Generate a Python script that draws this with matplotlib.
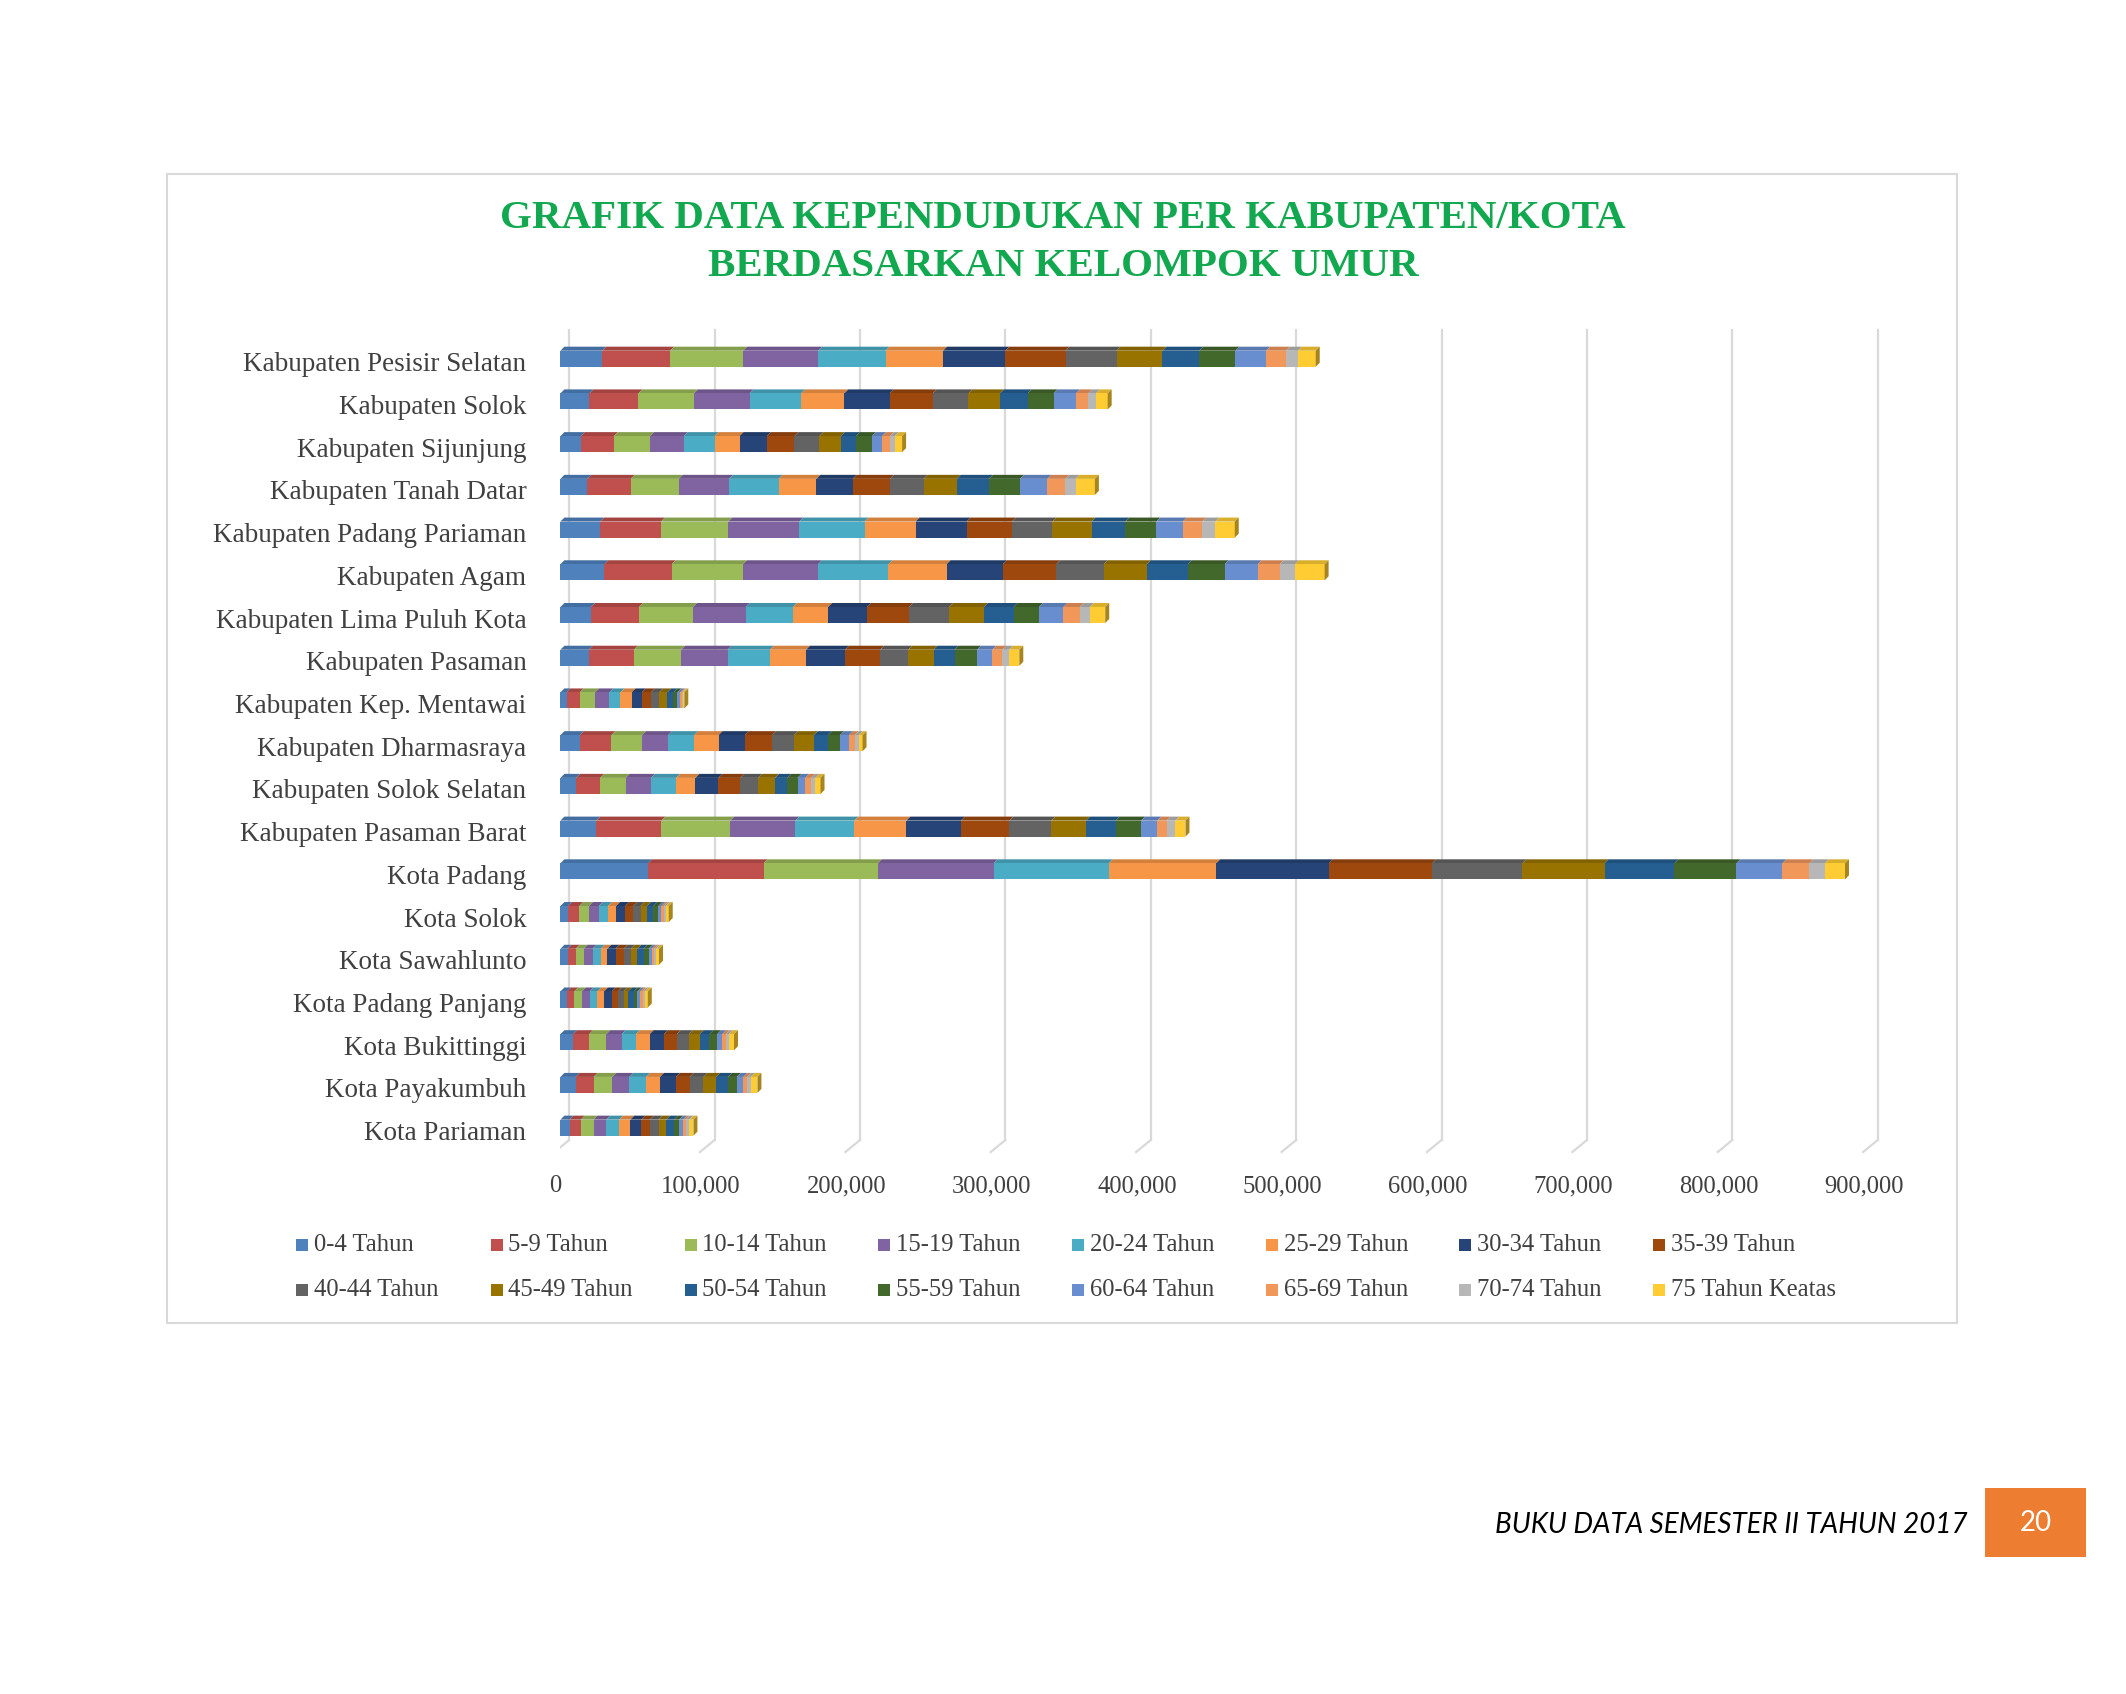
import numpy as np
import matplotlib
matplotlib.use('Agg')
import matplotlib.pyplot as plt
from matplotlib.patches import Rectangle, Polygon
from matplotlib.transforms import ScaledTranslation

# Regions, top to bottom
regions = [
    'Kabupaten Pesisir Selatan', 'Kabupaten Solok', 'Kabupaten Sijunjung',
    'Kabupaten Tanah Datar', 'Kabupaten Padang Pariaman', 'Kabupaten Agam',
    'Kabupaten Lima Puluh Kota', 'Kabupaten Pasaman', 'Kabupaten Kep. Mentawai',
    'Kabupaten Dharmasraya', 'Kabupaten Solok Selatan', 'Kabupaten Pasaman Barat',
    'Kota Padang', 'Kota Solok', 'Kota Sawahlunto', 'Kota Padang Panjang',
    'Kota Bukittinggi', 'Kota Payakumbuh', 'Kota Pariaman',
]

age_groups = ['0-4 Tahun', '5-9 Tahun', '10-14 Tahun', '15-19 Tahun', '20-24 Tahun',
              '25-29 Tahun', '30-34 Tahun', '35-39 Tahun', '40-44 Tahun', '45-49 Tahun',
              '50-54 Tahun', '55-59 Tahun', '60-64 Tahun', '65-69 Tahun', '70-74 Tahun',
              '75 Tahun Keatas']

# population per age group, in region order
age_0_4 = [28800, 20000, 14000, 18600, 27400, 30200, 21100, 19600, 4200, 13300, 10900, 24600, 60400, 5300, 4900, 4600, 8800, 10500, 6300]
age_5_9 = [46700, 33700, 22800, 29800, 41800, 46300, 33000, 30900, 9100, 21800, 16500, 44900, 79300, 7700, 5600, 4900, 10900, 12300, 7700]
age_10_14 = [50200, 38200, 24900, 33000, 46300, 49100, 37200, 32600, 10500, 21100, 17500, 47400, 78600, 6700, 5600, 5300, 11900, 13000, 8800]
age_15_19 = [51600, 38200, 23200, 34700, 48800, 51600, 36100, 31900, 9800, 17900, 17500, 44600, 79600, 6700, 6000, 5300, 10500, 11600, 8800]
age_20_24 = [46300, 35400, 21100, 34000, 44900, 48400, 32600, 29100, 7700, 17900, 17200, 40700, 79300, 6300, 5600, 5300, 9800, 11600, 8800]
age_25_29 = [39600, 29800, 17200, 26000, 35100, 40000, 24200, 24900, 7700, 16800, 13300, 35800, 73900, 5600, 4600, 4600, 9500, 9500, 7700]
age_30_34 = [42800, 31200, 18900, 24900, 35100, 38600, 26700, 26700, 7000, 17900, 15800, 37500, 77400, 6300, 5600, 5300, 9800, 10900, 7400]
age_35_39 = [41400, 29500, 18900, 25600, 31200, 36800, 28800, 24200, 6300, 18900, 15100, 33300, 71100, 5600, 5600, 4200, 8800, 9500, 6000]
age_40_44 = [35100, 24600, 17200, 23200, 27700, 32600, 27700, 19300, 5600, 15100, 12300, 28800, 62000, 4900, 4900, 3900, 8400, 9500, 6000]
age_45_49 = [31600, 21800, 14700, 22800, 27000, 29800, 23900, 17500, 5600, 13700, 11600, 23900, 56500, 4600, 4600, 3200, 7400, 8800, 5300]
age_50_54 = [25300, 18900, 10500, 22100, 23200, 28100, 20400, 14400, 4200, 9800, 8400, 20400, 48100, 4200, 4200, 3900, 6700, 8100, 5300]
age_55_59 = [24900, 17900, 10900, 21400, 21400, 25300, 17500, 15400, 2800, 8100, 7000, 17500, 42600, 3500, 3500, 2500, 5300, 6000, 3500]
age_60_64 = [21100, 15400, 7000, 18900, 18200, 22800, 16800, 10500, 1800, 6300, 5300, 11200, 31600, 2100, 2100, 1800, 3500, 4600, 2800]
age_65_69 = [13700, 8400, 5300, 12300, 13300, 15100, 11200, 7000, 1100, 3900, 4200, 6300, 18600, 1800, 1800, 1800, 2500, 2500, 1800]
age_70_74 = [8100, 5300, 3500, 7000, 9100, 10500, 7000, 4600, 700, 2800, 2800, 6000, 10700, 1400, 1400, 1400, 2100, 2500, 2500]
age_75_plus = [12300, 8100, 4900, 13300, 13300, 20400, 10500, 7000, 1100, 2500, 3500, 7000, 13800, 1800, 1800, 2100, 3500, 4600, 2800]

series = [age_0_4, age_5_9, age_10_14, age_15_19, age_20_24, age_25_29, age_30_34,
          age_35_39, age_40_44, age_45_49, age_50_54, age_55_59, age_60_64,
          age_65_69, age_70_74, age_75_plus]

colors = ['#4F81BD', '#C0504D', '#9BBB59', '#8064A2', '#4BACC6', '#F79646',
          '#264478', '#9E480E', '#636363', '#997300', '#255E91', '#43682B',
          '#698ED0', '#F1975A', '#B7B7B7', '#FFCD33']

x_ticks = list(range(0, 900001, 100000))

SERIF = 'Liberation Serif'
W, H = 2126, 1694


def fx(px):
    return px / W


def fy(py):
    return 1 - py / H


def darker(c, f=0.8):
    r, g, b = matplotlib.colors.to_rgb(c)
    return (r * f, g * f, b * f)


fig = plt.figure(figsize=(W / 100, H / 100), dpi=100)
fig.patch.set_facecolor('white')

# outer chart frame
fig.add_artist(Rectangle((fx(167), fy(1323)), (1957 - 167) / W, (1323 - 174) / H,
                         transform=fig.transFigure, fill=False,
                         edgecolor='#D9D9D9', linewidth=1.5))

# title
green = '#12A84F'
fig.text(fx(1063), fy(219), 'GRAFIK DATA KEPENDUDUKAN PER KABUPATEN/KOTA',
         ha='center', va='center', fontsize=29.5, fontweight='bold', color=green, family=SERIF)
fig.text(fx(1063), fy(266), 'BERDASARKAN KELOMPOK UMUR',
         ha='center', va='center', fontsize=29.5, fontweight='bold', color=green, family=SERIF)

# plot area
ax = fig.add_axes([fx(560.4), fy(1160), 1352.2 / W, 840 / H])
ax.set_xlim(0, 930000)
ax.set_ylim(18.757, -0.906)
for s in ax.spines.values():
    s.set_visible(False)
ax.patch.set_alpha(0)

y = np.arange(len(regions))
h = 0.375
dx = 2750   # depth offset (x, data units)
dy = 0.094  # depth offset (rows)

# back-wall gridlines with a little floor step
for v in x_ticks:
    ax.plot([v + 6000, v + 6000], [-0.672, 18.29], color='#D9D9D9', lw=1.6, zorder=0)
    ax.plot([v + 6000, v - 4000], [18.29, 18.57], color='#D9D9D9', lw=1.6, zorder=0)

left = np.zeros(len(regions))
for vals, col in zip(series, colors):
    vals = np.array(vals, dtype=float)
    ax.barh(y, vals, left=left, height=h, color=col, edgecolor='none', zorder=3)
    for yi, l, w in zip(y, left, vals):
        top = yi - h / 2
        ax.add_patch(Polygon([(l, top), (l + w, top), (l + w + dx, top - dy), (l + dx, top - dy)],
                             closed=True, facecolor=darker(col, 0.85), edgecolor='none', zorder=2))
    left = left + vals

# right end caps
for yi, r in zip(y, left):
    ax.add_patch(Polygon([(r, yi - h / 2), (r + dx, yi - h / 2 - dy), (r + dx, yi + h / 2 - dy), (r, yi + h / 2)],
                         closed=True, facecolor=darker(colors[-1], 0.65), edgecolor='none', zorder=4))

ax.set_yticks(y)
ax.set_yticklabels(regions, fontsize=19.5, family=SERIF, color='#404040')
ax.set_xticks(x_ticks)
ax.set_xticklabels(['{:,}'.format(v) for v in x_ticks], fontsize=17.7, family=SERIF, color='#404040')
ax.tick_params(axis='y', length=0, pad=24.5)
ax.tick_params(axis='x', length=0, pad=11)
shift = ScaledTranslation(-5 / 100, 0, fig.dpi_scale_trans)
for lab in ax.get_xticklabels():
    lab.set_transform(lab.get_transform() + shift)
down = ScaledTranslation(0, -3 / 100, fig.dpi_scale_trans)
for lab in ax.get_yticklabels():
    lab.set_transform(lab.get_transform() + down)

# legend (two rows of eight, evenly spaced like Excel)
col_x = [302, 496.5, 690.5, 884, 1078, 1271.5, 1465, 1659]
row_y = [1245, 1290]
for i, (name, col) in enumerate(zip(age_groups, colors)):
    cx = col_x[i % 8]
    cy = row_y[i // 8]
    fig.add_artist(Rectangle((fx(cx - 6), fy(cy + 6)), 12 / W, 12 / H,
                             transform=fig.transFigure, facecolor=col, edgecolor='none'))
    fig.text(fx(cx + 12), fy(cy), name, ha='left', va='center', fontsize=17.7,
             family=SERIF, color='#404040')

# page footer
fig.text(fx(1968), fy(1525), 'BUKU DATA SEMESTER II TAHUN 2017', ha='right', va='center',
         fontsize=20, style='italic', family='Lato', color='black')
fig.add_artist(Rectangle((fx(1985), fy(1557)), (2086 - 1985) / W, (1557 - 1488) / H,
                         transform=fig.transFigure, facecolor='#ED7D31', edgecolor='none'))
fig.text(fx(2035.5), fy(1523), '20', ha='center', va='center', fontsize=20,
         family='Lato', color='white')

fig.savefig('out.png', dpi=100)
